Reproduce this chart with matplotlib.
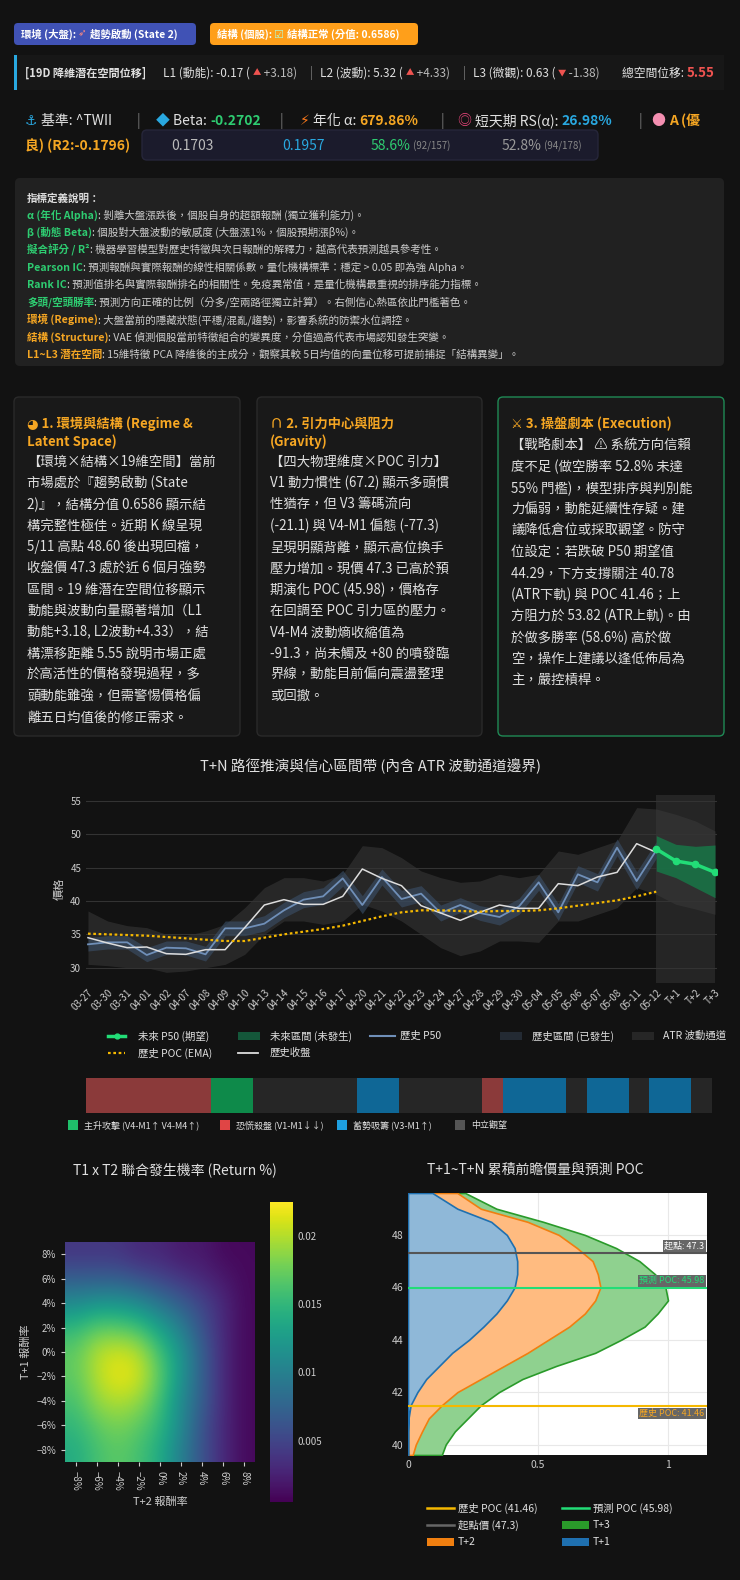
import numpy as np
import matplotlib
matplotlib.use("Agg")
import matplotlib.pyplot as plt
import matplotlib.patches as patches

plt.rcParams['font.family'] = ['Noto Sans CJK TC', 'DejaVu Sans']
plt.rcParams['axes.unicode_minus'] = True

BG = '#121212'
FG = '#e0e0e0'
GREEN = '#2ecc71'
ORANGE = '#f5a623'
BLUE = '#29a8e0'
RED = '#ef5350'

# ---- main chart data ----
dates = ['03-27', '03-30', '03-31', '04-01', '04-02', '04-07', '04-08', '04-09', '04-10', '04-13',
         '04-14', '04-15', '04-16', '04-17', '04-20', '04-21', '04-22', '04-23', '04-24', '04-27',
         '04-28', '04-29', '04-30', '05-04', '05-05', '05-06', '05-07', '05-08', '05-11', '05-12']
future_labels = ['T+1', 'T+2', 'T+3']
close = [34.5, 33.7, 33.0, 33.1, 32.1, 32.0, 32.7, 32.7, 36.0, 39.4, 40.2, 39.5, 39.5, 40.7, 44.8,
         43.4, 42.3, 39.3, 38.2, 37.1, 38.3, 39.4, 38.9, 38.9, 42.6, 42.3, 43.6, 44.3, 48.6, 47.3]
hist_p50 = [33.5, 33.8, 33.8, 31.9, 33.0, 32.9, 32.0, 35.9, 35.9, 36.6, 38.6, 40.2, 40.7, 43.4, 39.4,
            43.6, 40.3, 41.1, 38.2, 39.4, 38.2, 37.6, 39.2, 42.8, 38.3, 44.0, 42.8, 48.0, 43.0, 47.6]
hist_hi = [34.5, 34.8, 34.8, 33.0, 34.0, 34.0, 33.2, 37.0, 37.0, 37.8, 39.8, 41.4, 42.0, 44.6, 40.8,
           44.8, 41.6, 42.3, 39.4, 40.5, 39.3, 38.8, 40.4, 44.0, 39.6, 45.3, 44.1, 49.3, 44.4, 48.9]
hist_lo = [32.5, 32.8, 32.8, 30.9, 32.0, 31.9, 31.0, 34.8, 34.8, 35.5, 37.5, 39.0, 39.5, 42.2, 38.1,
           42.4, 39.1, 39.9, 37.0, 38.3, 37.1, 36.4, 38.0, 41.6, 37.1, 42.8, 41.5, 46.8, 41.7, 46.4]
poc_ema = [35.1, 35.0, 34.9, 34.8, 34.6, 34.4, 34.2, 34.0, 34.0, 34.5, 35.0, 35.4, 35.8, 36.3, 37.0,
           37.7, 38.3, 38.6, 38.6, 38.5, 38.4, 38.5, 38.5, 38.6, 38.9, 39.3, 39.7, 40.1, 40.7, 41.4]
atr_hi = [38.5, 37.0, 36.3, 36.0, 35.0, 34.8, 35.5, 36.5, 39.0, 42.0, 43.5, 43.5, 43.0, 44.0, 48.3,
          48.0, 46.5, 44.5, 43.5, 42.8, 43.0, 44.0, 43.5, 44.0, 47.5, 47.0, 48.0, 49.0, 54.0, 53.8,
          53.0, 52.0, 50.5]
atr_lo = [30.5, 30.3, 30.0, 30.0, 29.3, 29.5, 30.0, 30.5, 32.0, 35.0, 37.0, 37.0, 36.5, 37.0, 39.5,
          38.5, 37.0, 35.0, 33.0, 31.8, 32.5, 34.0, 34.0, 33.8, 37.0, 37.0, 38.0, 39.0, 42.0, 41.0,
          39.5, 38.8, 38.0]
fut_p50 = [47.8, 46.0, 45.5, 44.3]
fut_hi = [49.8, 48.5, 48.2, 48.4]
fut_lo = [44.5, 43.5, 42.0, 40.5]

# regime per historical day: 0 attack, 1 panic, 2 accumulate, 3 neutral
regime = [1, 1, 1, 1, 1, 1, 0, 0, 3, 3, 3, 3, 3, 2, 2, 3, 3, 3, 3, 1, 2, 2, 2, 3, 2, 2, 3, 2, 2, 3]
regime_colors = ['#0e8a4a', '#8b3a3a', '#0f6796', '#262626']
regime_names = ['主升攻擊 (V4-M1↑ V4-M4↑)', '恐慌殺盤 (V1-M1↓↓)', '蓄勢吸籌 (V3-M1↑)', '中立觀望']
regime_key = ['#1fbf6a', '#e04545', '#1e9fe0', '#555555']

# ---- heatmap data (x0.001), rows T+1 from -8% to 8%, cols T+2 from -8% to 8% ----
ret_ticks = [-8, -6, -4, -2, 0, 2, 4, 6, 8]
joint = np.array([
    [14, 16, 17, 16, 14, 10, 6, 3, 1],
    [15, 17, 18, 17, 15, 11, 6, 3, 1],
    [16, 19, 20, 19, 16, 11, 7, 3, 1],
    [17, 20, 22, 21, 17, 12, 7, 3, 1],
    [17, 20, 21, 20, 16, 12, 7, 3, 1],
    [15, 17, 17, 16, 13, 10, 6, 3, 1],
    [11, 12, 12, 11, 9, 7, 5, 3, 1],
    [7, 7, 7, 6, 5, 4, 3, 2, 1],
    [4, 4, 4, 3, 3, 2, 2, 1, 1]]) / 1000.0

# ---- forward volume profile ----
price_lv = [39.6, 40.0, 40.5, 41.0, 41.5, 42.0, 42.5, 43.0, 43.5, 44.0, 44.5, 45.0, 45.5,
            46.0, 46.5, 47.0, 47.5, 48.0, 48.5, 49.0, 49.6]
dens_t1 = [0, 0, 0, 0.002, 0.01, 0.036, 0.07, 0.12, 0.17, 0.235, 0.29, 0.34, 0.38,
           0.41, 0.42, 0.42, 0.41, 0.38, 0.32, 0.19, 0.094]
dens_t2 = [0.018, 0.03, 0.054, 0.08, 0.13, 0.19, 0.28, 0.37, 0.46, 0.54, 0.62, 0.68, 0.72,
           0.74, 0.73, 0.71, 0.65, 0.58, 0.46, 0.28, 0.19]
dens_t3 = [0.13, 0.145, 0.18, 0.23, 0.28, 0.35, 0.44, 0.57, 0.72, 0.82, 0.91, 0.96, 1.0,
           0.99, 0.95, 0.89, 0.80, 0.68, 0.52, 0.34, 0.22]
start_price = 47.3
pred_poc = 45.98
hist_poc = 41.46

W, H = 740, 1580
fig = plt.figure(figsize=(W / 100, H / 100), dpi=100, facecolor=BG)
ov = fig.add_axes([0, 0, 1, 1])
ov.set_xlim(0, W)
ov.set_ylim(H, 0)
ov.axis('off')
renderer = fig.canvas.get_renderer()


def rect(l, t, r, b):
    return [l / W, 1 - b / H, (r - l) / W, (b - t) / H]


def box(l, t, r, b, fc, ec='none', rad=4, lw=1):
    ov.add_patch(patches.FancyBboxPatch((l, t), r - l, b - t, boxstyle=f'round,pad=0,rounding_size={rad}',
                                        fc=fc, ec=ec, lw=lw))


def run(x, y, parts, size=8):
    # parts: list of (text, color, bold, size)
    for p in parts:
        txt, col = p[0], p[1]
        bold = p[2] if len(p) > 2 else False
        sz = p[3] if len(p) > 3 else size
        t = ov.text(x, y, txt, color=col, fontsize=sz, va='center', ha='left',
                    fontweight='bold' if bold else 'normal')
        x += t.get_window_extent(renderer).width
    return x


# ---- header badges ----
box(14, 23, 196, 45, '#4052b5')
run(21, 34, [('環境 (大盤): ', 'white', True, 7.5), ('➶ ', '#ff8a80', True, 7.5),
             ('趨勢啟動 (State 2)', 'white', True, 7.5)])
box(210, 23, 418, 45, '#ff9f1a')
run(217, 34, [('結構 (個股): ', 'white', True, 7.5), ('☑ ', '#b9f6ca', True, 8),
              ('結構正常 (分值: 0.6586)', 'white', True, 7.5)])

# ---- latent row ----
ov.add_patch(patches.Rectangle((14, 55), 710, 35, fc='#171717', ec='none'))
ov.add_patch(patches.Rectangle((14, 55), 2.5, 35, fc=BLUE, ec='none'))
y = 73
run(25, y, [('[19D 降維潛在空間位移]', FG, True, 8)])
run(163, y, [('L1 (動能): -0.17 ( ', FG, False, 8.5), ('▲', RED, False, 6), (' +3.18)', '#bbbbbb', False, 8.5)])
ov.text(310, y, '|', color='#777', fontsize=8.5, va='center')
run(320, y, [('L2 (波動): 5.32 ( ', FG, False, 8.5), ('▲', RED, False, 6), (' +4.33)', '#bbbbbb', False, 8.5)])
ov.text(463, y, '|', color='#777', fontsize=8.5, va='center')
run(473, y, [('L3 (微觀): 0.63 ( ', FG, False, 8.5), ('▼', RED, False, 6), (' -1.38)', '#bbbbbb', False, 8.5)])
run(622, y, [('總空間位移: ', FG, False, 8.5), ('5.55', RED, True, 9.5)])

# ---- stats row ----
y = 121
run(25, y, [('⚓ ', BLUE, False, 10), ('基準: ^TWII', FG, False, 10)])
ov.text(137, y, '|', color='#777', fontsize=10, va='center')
run(156, y, [('◆ ', BLUE, False, 10), ('Beta: ', FG, False, 10), ('-0.2702', GREEN, True, 10)])
ov.text(280, y, '|', color='#777', fontsize=10, va='center')
run(300, y, [('⚡ ', '#ff7a1a', False, 10), ('年化 α: ', FG, False, 10), ('679.86%', ORANGE, True, 10)])
ov.text(441, y, '|', color='#777', fontsize=10, va='center')
run(458, y, [('◎ ', '#e8457a', False, 10), ('短天期 RS(α): ', FG, False, 10), ('26.98%', BLUE, True, 10)])
ov.text(639, y, '|', color='#777', fontsize=10, va='center')
run(652, y, [('● ', '#f48fb1', False, 10), ('A (優', ORANGE, True, 10)])
ov.text(25, 146, '良) (R2:-0.1796)', color=ORANGE, fontsize=10, fontweight='bold', va='center')
box(142, 130, 598, 160, '#1b1b2c', ec='#26263a', rad=5)
ov.text(171, 146, '0.1703', color='#bbbbbb', fontsize=10, va='center')
ov.text(282, 146, '0.1957', color=BLUE, fontsize=10, va='center')
run(371, 146, [('58.6%', GREEN, False, 10), (' (92/157)', '#888888', False, 7)])
run(502, 146, [('52.8%', '#999999', False, 10), (' (94/178)', '#888888', False, 7)])

# ---- definitions box ----
box(15, 178, 724, 366, '#212121', rad=5)
defs = [('指標定義說明：', '#dddddd', ''),
        ('α (年化 Alpha)', GREEN, ': 剝離大盤漲跌後，個股自身的超額報酬 (獨立獲利能力)。'),
        ('β (動態 Beta)', GREEN, ': 個股對大盤波動的敏感度 (大盤漲1%，個股預期漲β%)。'),
        ('擬合評分 / R²', GREEN, ': 機器學習模型對歷史特徵與次日報酬的解釋力，越高代表預測越具參考性。'),
        ('Pearson IC', GREEN, ': 預測報酬與實際報酬的線性相關係數。量化機構標準：穩定 > 0.05 即為強 Alpha。'),
        ('Rank IC', GREEN, ': 預測值排名與實際報酬排名的相關性。免疫異常值，是量化機構最重視的排序能力指標。'),
        ('多頭/空頭勝率', GREEN, ': 預測方向正確的比例（分多/空兩路徑獨立計算）。右側信心熱區依此門檻著色。'),
        ('環境 (Regime)', ORANGE, ': 大盤當前的隱藏狀態(平穩/混亂/趨勢)，影響系統的防禦水位調控。'),
        ('結構 (Structure)', ORANGE, ': VAE 偵測個股當前特徵組合的變異度，分值過高代表市場認知發生突變。'),
        ('L1~L3 潛在空間', ORANGE, ': 15維特徵 PCA 降維後的主成分，觀察其較 5日均值的向量位移可提前捕捉「結構異變」。')]
for i, (lab, col, rest) in enumerate(defs):
    yy = 198 + i * 17.4
    run(27, yy, [(lab, col, True, 7.6), (rest, '#cccccc', False, 7.6)])

# ---- three cards ----
cards = [
    (14, 240, '#2a2a2a', ['◕ 1. 環境與結構 (Regime &', 'Latent Space)'], 462, [
        '【環境×結構×19維空間】當前', '市場處於『趨勢啟動 (State', '2)』，結構分值 0.6586 顯示結',
        '構完整性極佳。近期 K 線呈現', '5/11 高點 48.60 後出現回檔，', '收盤價 47.3 處於近 6 個月強勢',
        '區間。19 維潛在空間位移顯示', '動能與波動向量顯著增加（L1', '動能+3.18, L2波動+4.33），結',
        '構漂移距離 5.55 說明市場正處', '於高活性的價格發現過程，多', '頭動能雖強，但需警惕價格偏',
        '離五日均值後的修正需求。']),
    (257, 482, '#2a2a2a', ['∩ 2. 引力中心與阻力', '(Gravity)'], 462, [
        '【四大物理維度×POC 引力】', 'V1 動力慣性 (67.2) 顯示多頭慣', '性猶存，但 V3 籌碼流向',
        '(-21.1) 與 V4-M1 偏態 (-77.3)', '呈現明顯背離，顯示高位換手', '壓力增加。現價 47.3 已高於預',
        '期演化 POC (45.98)，價格存', '在回調至 POC 引力區的壓力。', 'V4-M4 波動熵收縮值為',
        '-91.3，尚未觸及 +80 的噴發臨', '界線，動能目前偏向震盪整理', '或回撤。']),
    (498, 724, '#1f8a55', ['⚔ 3. 操盤劇本 (Execution)'], 446, [
        '【戰略劇本】 ⚠ 系統方向信賴', '度不足 (做空勝率 52.8% 未達', '55% 門檻)，模型排序與判別能',
        '力偏弱，動能延續性存疑。建', '議降低倉位或採取觀望。防守', '位設定：若跌破 P50 期望值',
        '44.29，下方支撐關注 40.78', '(ATR下軌) 與 POC 41.46；上', '方阻力於 53.82 (ATR上軌)。由',
        '於做多勝率 (58.6%) 高於做', '空，操作上建議以逢低佈局為', '主，嚴控槓桿。']),
]
for l, r, ec, title, y0, body in cards:
    box(l, 397, r, 736, '#191919', ec=ec, rad=5)
    for j, tl in enumerate(title):
        ov.text(l + 13, 424 + j * 18, tl, color=ORANGE, fontsize=9.5, fontweight='bold', va='center')
    for j, bl in enumerate(body):
        ov.text(l + 13, y0 + j * 21.3, bl, color=FG, fontsize=9.6, va='center')

# ---- main chart ----
ax = fig.add_axes(rect(86, 795, 717, 983))
ax.set_facecolor(BG)
n = len(dates)
xh = np.arange(n)
xall = np.arange(n + len(future_labels))
xf = np.arange(n - 1, n + len(future_labels))
ax.add_patch(patches.Rectangle((n - 1, 27.7), 3, 28.2, fc='#2a2a2a', ec='none', alpha=0.8, zorder=0))
ax.fill_between(xall, atr_lo, atr_hi, color='#3a3a3a', alpha=0.55, lw=0, zorder=1)
ax.fill_between(xh, hist_lo, hist_hi, color='#3d5470', alpha=0.55, lw=0, zorder=2)
ax.fill_between(xf, fut_lo, fut_hi, color='#14804a', alpha=0.75, lw=0, zorder=2)
ax.plot(xh, hist_p50, color='#6f8fb8', lw=1.3, zorder=3)
ax.plot(xh, close, color='#dddddd', lw=1.1, zorder=4)
ax.plot(xh, poc_ema, color='#f5b800', lw=1.6, ls=(0, (1.2, 1.2)), zorder=4)
ax.plot(xf, fut_p50, color='#22dd77', lw=2.5, marker='o', ms=4.5, zorder=5)
ax.set_xlim(-0.1, n + 2.1)
ax.set_ylim(27.7, 55.9)
ax.set_yticks([30, 35, 40, 45, 50, 55])
ax.set_xticks(xall)
ax.set_xticklabels(dates + future_labels, rotation=45, ha='right', rotation_mode='anchor')
ax.tick_params(colors='#cccccc', labelsize=7, length=0)
ax.grid(axis='y', color='#333333', lw=0.8)
for s in ax.spines.values():
    s.set_visible(False)
ax.set_ylabel('價格', color='#cccccc', fontsize=8)
ov.text(370, 766, 'T+N 路徑推演與信心區間帶 (內含 ATR 波動通道邊界)', color=FG, fontsize=10.5, ha='center', va='center')

# legend for main chart
ly1, ly2 = 1036, 1053
ov.plot([108, 125], [ly1, ly1], color='#22dd77', lw=2.5)
ov.plot([116.5], [ly1], 'o', color='#22dd77', ms=3.5)
ov.text(138, ly1, '未來 P50 (期望)', color=FG, fontsize=7.5, va='center')
ov.add_patch(patches.Rectangle((238, ly1 - 4), 22, 8, fc='#14573a'))
ov.text(270, ly1, '未來區間 (未發生)', color=FG, fontsize=7.5, va='center')
ov.plot([370, 395], [ly1, ly1], color='#6f8fb8', lw=1.5)
ov.text(400, ly1, '歷史 P50', color=FG, fontsize=7.5, va='center')
ov.add_patch(patches.Rectangle((500, ly1 - 4), 22, 8, fc='#232a33'))
ov.text(532, ly1, '歷史區間 (已發生)', color=FG, fontsize=7.5, va='center')
ov.add_patch(patches.Rectangle((632, ly1 - 4), 22, 8, fc='#262626'))
ov.text(663, ly1, 'ATR 波動通道', color=FG, fontsize=7.5, va='center')
ov.plot([108, 125], [ly2, ly2], color='#f5b800', lw=1.6, ls=(0, (1.2, 1.2)))
ov.text(138, ly2, '歷史 POC (EMA)', color=FG, fontsize=7.5, va='center')
ov.plot([238, 258], [ly2, ly2], color='#dddddd', lw=1.3)
ov.text(270, ly2, '歷史收盤', color=FG, fontsize=7.5, va='center')

# regime strip
axr = fig.add_axes(rect(86, 1078, 712, 1113))
axr.bar(xh, [1] * n, width=1.0, color=[regime_colors[r] for r in regime])
axr.set_xlim(-0.5, n - 0.5)
axr.set_ylim(0, 1)
axr.axis('off')
for i, (nm, c) in enumerate(zip(regime_names, regime_key)):
    xx = [68, 220, 337, 455][i]
    ov.add_patch(patches.Rectangle((xx, 1120), 10, 10, fc=c))
    ov.text(xx + 16, 1125, nm, color=FG, fontsize=6.5, va='center')

# ---- heatmap ----
axh = fig.add_axes(rect(65, 1242, 255, 1462))
im = axh.imshow(joint, origin='lower', cmap='viridis', extent=[-9, 9, -9, 9], aspect='auto',
                interpolation='bicubic', vmin=0.0005, vmax=0.0225)
axh.set_xticks(ret_ticks)
axh.set_xticklabels([f'{t}%'.replace('-', '−') for t in ret_ticks], rotation=270)
axh.set_yticks(ret_ticks)
axh.set_yticklabels([f'{t}%'.replace('-', '−') for t in ret_ticks])
axh.tick_params(colors='#cccccc', labelsize=7, length=3)
for s in axh.spines.values():
    s.set_visible(False)
axh.set_xlabel('T+2 報酬率', color='#cccccc', fontsize=8)
axh.set_ylabel('T+1 報酬率', color='#cccccc', fontsize=8)
cax = fig.add_axes(rect(270, 1202, 293, 1502))
cb = fig.colorbar(im, cax=cax, ticks=[0.005, 0.01, 0.015, 0.02])
cb.ax.set_yticklabels(['0.005', '0.01', '0.015', '0.02'])
cb.ax.tick_params(colors='#cccccc', labelsize=7, length=0)
cb.outline.set_visible(False)
ov.text(175, 1170, 'T1 x T2 聯合發生機率 (Return %)', color=FG, fontsize=10, ha='center', va='center')

# ---- volume profile ----
axv = fig.add_axes(rect(408, 1193, 707, 1455))
axv.set_facecolor('white')
axv.fill_betweenx(price_lv, 0, dens_t3, color='#8fd18f', ec='#2a9a2a', lw=1.2, zorder=2)
axv.fill_betweenx(price_lv, 0, dens_t2, color='#ffbb80', ec='#f07f10', lw=1.2, zorder=3)
axv.fill_betweenx(price_lv, 0, dens_t1, color='#8fb8d8', ec='#1f70b0', lw=1.2, zorder=4)
axv.axhline(start_price, color='#555555', lw=1.5, zorder=5)
axv.axhline(pred_poc, color='#22dd77', lw=1.5, zorder=5)
axv.axhline(hist_poc, color='#f5b800', lw=1.5, zorder=5)
axv.set_xlim(0, 1.15)
axv.set_ylim(39.6, 49.6)
axv.set_yticks([40, 42, 44, 46, 48])
axv.set_xticks([0, 0.5, 1])
axv.set_xticklabels(['0', '0.5', '1'])
axv.grid(color='#e8e8e8', lw=0.8, zorder=0)
axv.tick_params(colors='#cccccc', labelsize=7.5, length=0)
for s in axv.spines.values():
    s.set_visible(False)
bb = dict(boxstyle='square,pad=0.15', fc='#666666', ec='none')
axv.text(1.14, start_price + 0.1, f'起點: {start_price}', color='white', fontsize=6.5, ha='right', va='bottom', bbox=bb, zorder=6)
axv.text(1.14, pred_poc + 0.1, f'預測 POC: {pred_poc}', color='#22dd77', fontsize=6.5, ha='right', va='bottom', bbox=bb, zorder=6)
axv.text(1.14, hist_poc - 0.1, f'歷史 POC: {hist_poc}', color=ORANGE, fontsize=6.5, ha='right', va='top', bbox=bb, zorder=6)
ov.text(535, 1170, 'T+1~T+N 累積前瞻價量與預測 POC', color=FG, fontsize=10, ha='center', va='center')

# legend for volume profile
leg = [(427, 1508, 'line', '#f5b800', f'歷史 POC ({hist_poc})'),
       (562, 1508, 'line', '#22dd77', f'預測 POC ({pred_poc})'),
       (427, 1525, 'line', '#666666', f'起點價 ({start_price})'),
       (562, 1525, 'patch', '#2a9a2a', 'T+3'),
       (427, 1542, 'patch', '#f07f10', 'T+2'),
       (562, 1542, 'patch', '#1f70b0', 'T+1')]
for xx, yy, kind, c, lab in leg:
    if kind == 'line':
        ov.plot([xx, xx + 27], [yy, yy], color=c, lw=1.8)
    else:
        ov.add_patch(patches.Rectangle((xx, yy - 4), 27, 8, fc=c, ec='none'))
    ov.text(xx + 31, yy, lab, color=FG, fontsize=7.5, va='center')

fig.savefig('out.png', dpi=100, facecolor=BG)
